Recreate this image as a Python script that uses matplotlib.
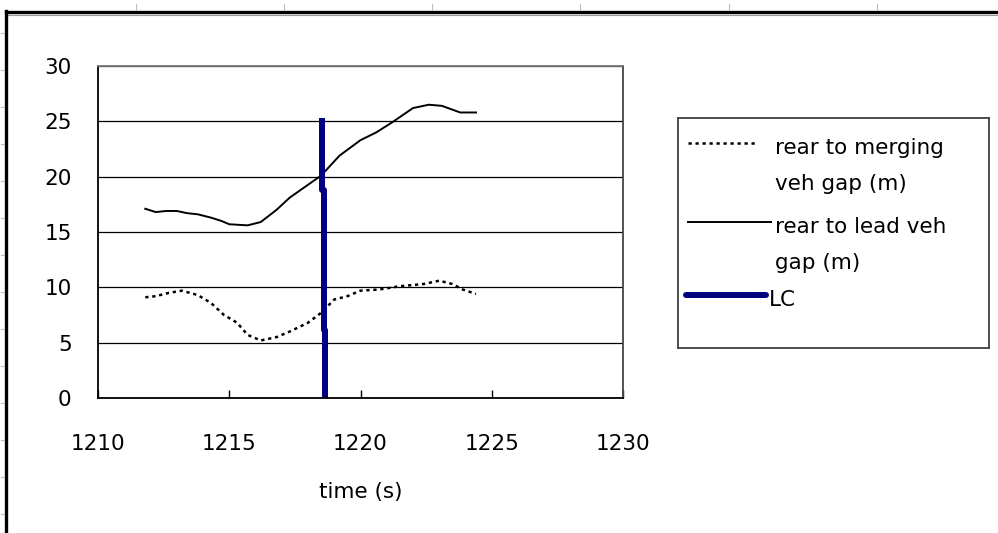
# -*- coding: utf-8 -*-
"""
Gap between rear vehicle and merging / lead vehicle around the lane change (LC)
"""
import matplotlib
matplotlib.use('Agg')
import matplotlib.pyplot as plt
from matplotlib.lines import Line2D

plt.rcParams['font.family'] = ['DejaVu Sans']

W, H = 998, 533

# data
lead_t = [1211.8, 1212.2, 1212.6, 1213.0, 1213.4, 1213.8, 1214.3, 1214.7, 1215.0,
          1215.7, 1216.2, 1216.8, 1217.3, 1218.5, 1219.2, 1220.0, 1220.6, 1221.2,
          1222.0, 1222.6, 1223.1, 1223.8, 1224.4]
lead_gap = [17.1, 16.8, 16.9, 16.9, 16.7, 16.6, 16.3, 16.0, 15.7,
            15.6, 15.9, 17.0, 18.1, 20.1, 21.9, 23.3, 24.0, 24.9,
            26.2, 26.5, 26.4, 25.8, 25.8]

merge_t = [1211.8, 1212.2, 1212.7, 1213.2, 1213.8, 1214.3, 1214.8, 1215.3, 1215.7,
           1216.2, 1216.8, 1217.3, 1218.0, 1218.5, 1219.0, 1219.5, 1220.0, 1220.7,
           1221.5, 1222.4, 1223.0, 1223.5, 1223.9, 1224.4]
merge_gap = [9.1, 9.2, 9.5, 9.7, 9.3, 8.6, 7.5, 6.8, 5.7,
             5.2, 5.5, 6.0, 6.8, 7.7, 8.9, 9.2, 9.7, 9.8,
             10.1, 10.3, 10.6, 10.3, 9.8, 9.4]

lc_t = [1218.55, 1218.55, 1218.6, 1218.6, 1218.65, 1218.65]
lc_gap = [25, 18.8, 18.8, 6.1, 6.1, 0]

labels = ['rear to merging\nveh gap (m)', 'rear to lead veh\ngap (m)', 'LC']
x_ticks = [1210, 1215, 1220, 1225, 1230]
y_ticks = [0, 5, 10, 15, 20, 25, 30]

NAVY = '#000080'
FS = 15.5


def fx(x):
    return x / W


def fy(y):
    return 1 - y / H


fig = plt.figure(figsize=(W / 100, H / 100), dpi=100)

# sheet frame and ruler marks around the chart object
fig.add_artist(Line2D([fx(6), 1], [fy(12), fy(12)], color='black', lw=2.4))
fig.add_artist(Line2D([fx(6), 1], [fy(14.5), fy(14.5)], color='#999999', lw=0.8))
fig.add_artist(Line2D([fx(6), fx(6)], [fy(11), 0], color='black', lw=2.4))
for x in [136, 284, 432, 580, 729, 877]:
    fig.add_artist(Line2D([fx(x), fx(x)], [fy(4), fy(10)], color='#bbbbbb', lw=0.8))
for y in range(33, H, 37):
    fig.add_artist(Line2D([fx(1), fx(4)], [fy(y), fy(y)], color='#bbbbbb', lw=0.8))

# plot area
ax = fig.add_axes([fx(98), fy(398), (623 - 98) / W, (398 - 66) / H])
ax.plot(merge_t, merge_gap, color='black', lw=1.8, linestyle=(0, (1.3, 1.5)))
ax.plot(lead_t, lead_gap, color='black', lw=1.4)
ax.plot(lc_t, lc_gap, color=NAVY, lw=4.3)

ax.set_xlim(1210, 1230)
ax.set_ylim(0, 30)
ax.set_xticks(x_ticks)
ax.set_yticks(y_ticks)
ax.grid(axis='y', color='black', lw=0.9)
ax.tick_params(axis='x', direction='in', length=6, width=1, pad=26, labelsize=FS)
ax.tick_params(axis='y', length=0, pad=19, labelsize=FS)
ax.set_xlabel('time (s)', fontsize=FS, labelpad=20)
for s in ax.spines.values():
    s.set_linewidth(1.3)
ax.spines['top'].set_color('#777777')
ax.spines['right'].set_color('#444444')

# legend box drawn as in the spreadsheet (handle on the first text line)
lax = fig.add_axes([fx(678), fy(348), (989 - 678) / W, (348 - 118) / H])
lax.set_xlim(0, 311)
lax.set_ylim(230, 0)
lax.set_xticks([])
lax.set_yticks([])
for s in lax.spines.values():
    s.set_color('#404040')
    s.set_linewidth(1.3)

styles = [dict(color='black', lw=1.8, linestyle=(0, (1.3, 1.5))),
          dict(color='black', lw=1.4),
          dict(color=NAVY, lw=4.3, solid_capstyle='round')]
handle_y = [25, 104, 177]
handle_x = [(10, 80), (10, 93), (8, 88)]
for lab, st, hy, hx in zip(labels, styles, handle_y, handle_x):
    lax.plot(hx, [hy, hy], **st)
    for k, line in enumerate(lab.split('\n')):
        lax.text(hx[1] + 3 if len(lab) < 5 else 97, hy + 5 + k * 36, line,
                 fontsize=FS, va='center', ha='left')

fig.savefig('out.png', dpi=100)
